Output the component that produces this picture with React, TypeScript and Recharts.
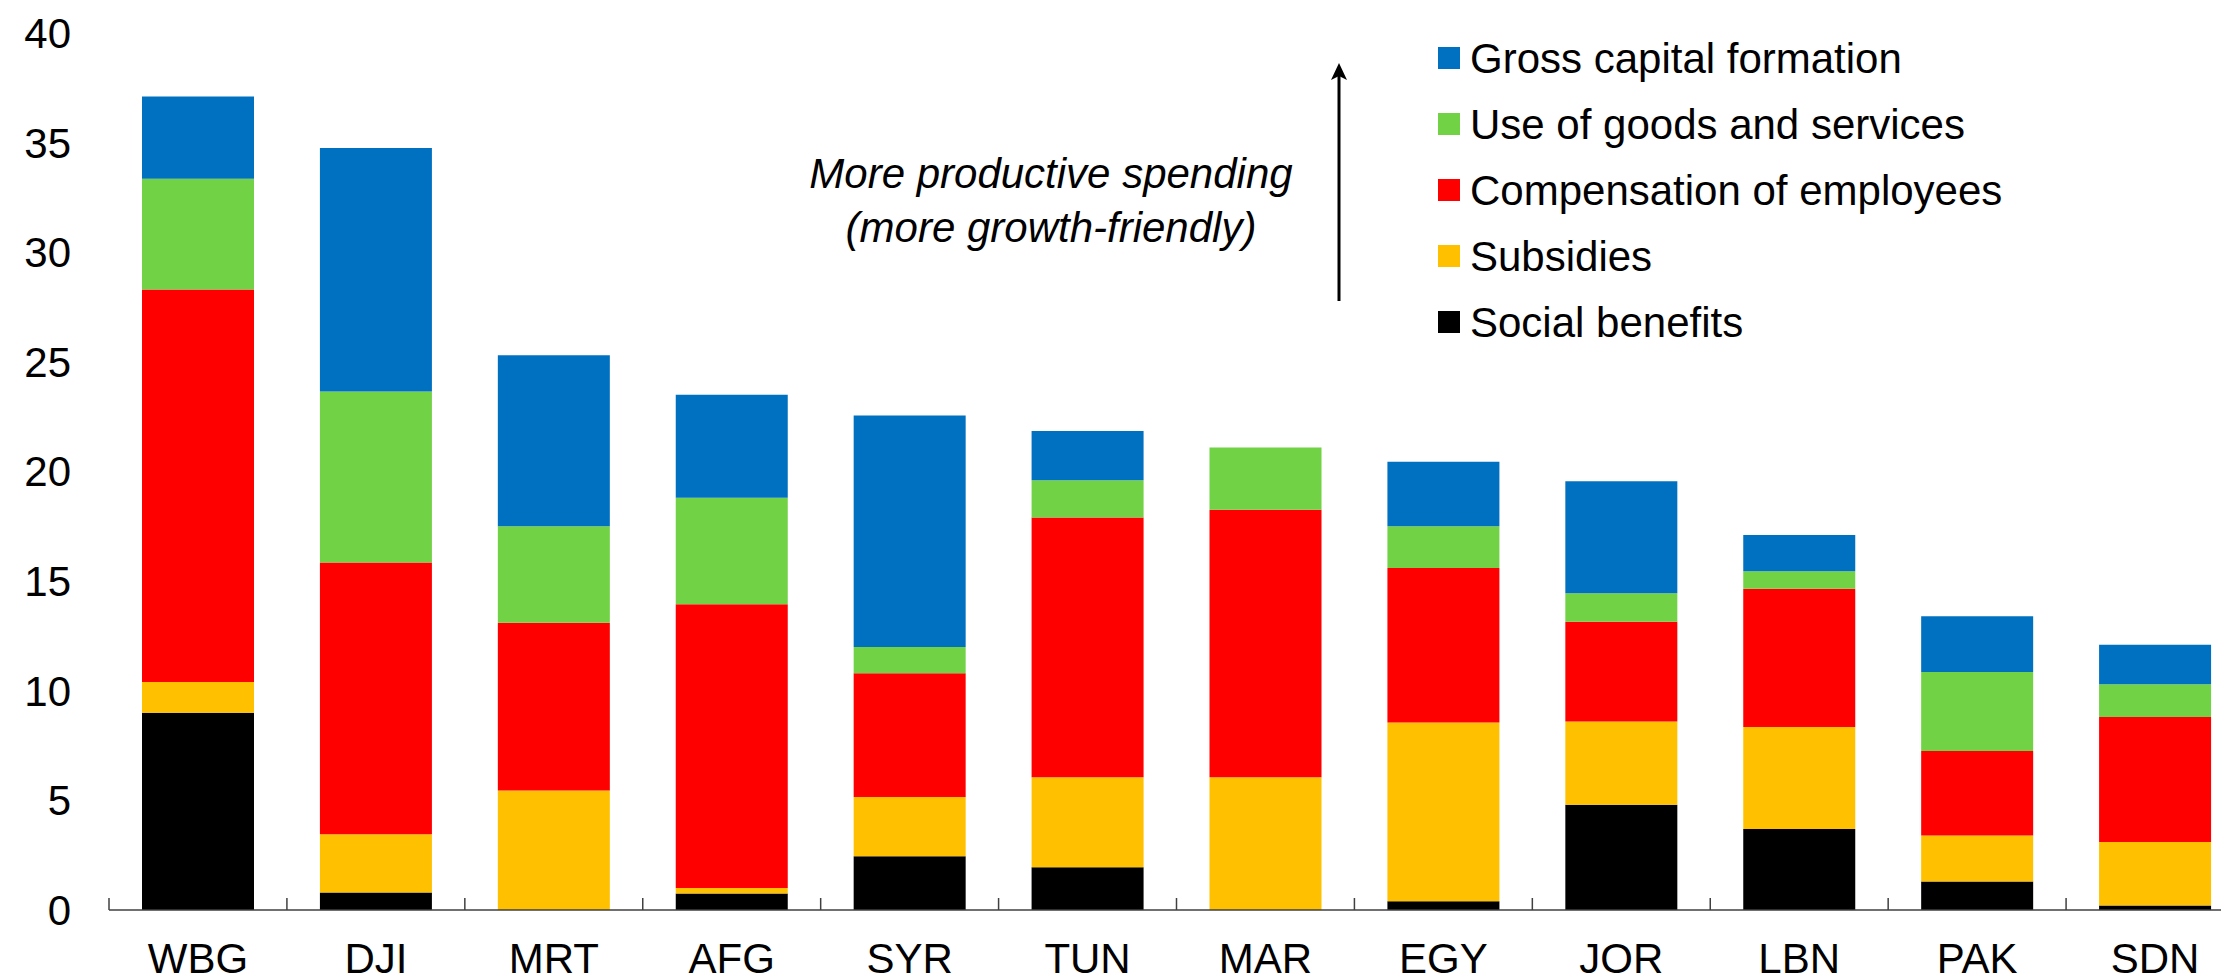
import { BarChart, Bar, XAxis, YAxis } from 'recharts';

// countries, left to right
const countries = ['WBG', 'DJI', 'MRT', 'AFG', 'SYR', 'TUN', 'MAR', 'EGY', 'JOR', 'LBN', 'PAK', 'SDN'];

// spending components, percent of GDP
const socialBenefits = [9.0, 0.8, 0, 0.75, 2.45, 1.95, 0, 0.4, 4.8, 3.7, 1.3, 0.2];
const subsidies = [1.4, 2.65, 5.45, 0.25, 2.7, 4.1, 6.05, 8.15, 3.8, 4.65, 2.1, 2.9];
const compensation = [17.9, 12.4, 7.65, 12.95, 5.65, 11.85, 12.2, 7.05, 4.55, 6.3, 3.85, 5.7];
const goodsServices = [5.05, 7.8, 4.4, 4.85, 1.2, 1.7, 2.85, 1.9, 1.3, 0.8, 3.6, 1.5];
const capitalFormation = [3.75, 11.1, 7.8, 4.7, 10.55, 2.25, 0, 2.95, 5.1, 1.65, 2.55, 1.8];

const yTicks = [0, 5, 10, 15, 20, 25, 30, 35, 40];

// stacking order: bottom first
const SERIES = [
    { key: 'social', name: 'Social benefits', color: '#000000', values: socialBenefits },
    { key: 'subsidies', name: 'Subsidies', color: '#FFC000', values: subsidies },
    { key: 'compensation', name: 'Compensation of employees', color: '#FF0000', values: compensation },
    { key: 'goods', name: 'Use of goods and services', color: '#70D244', values: goodsServices },
    { key: 'capital', name: 'Gross capital formation', color: '#0070C0', values: capitalFormation },
];

const FONT = "Arial, 'Liberation Sans', sans-serif";
const AXIS = '#404040';

const CHART_W = 2244; // wider than the page, right edge gets cropped like the original
const CHART_H = 977;
const Y_W = 109;
const BAND = (CHART_W - Y_W) / countries.length;

const data = countries.map((c, i) => {
    const row: Record<string, string | number> = { country: c };
    SERIES.forEach((s) => {
        row[s.key] = s.values[i];
    });
    return row;
});

// label under the bar + small upward tick at the left edge of each category
const CategoryTick = (props: any) => {
    const { x, y, payload } = props;
    const left = x - BAND / 2;
    return (
        <g>
            <line x1={left} x2={left} y1={y} y2={y - 12} stroke={AXIS} strokeWidth={1.5} />
            <text x={x} y={y + 63} textAnchor="middle" fontSize={42} fontFamily={FONT} fill="#000">
                {payload.value}
            </text>
        </g>
    );
};

export default function App() {
    // legend top-down is reverse of stacking
    const legendItems = [...SERIES].reverse();

    return (
        <div style={{ position: 'absolute', left: 0, top: 0, width: 2221, height: 977, overflow: 'hidden', background: '#fff' }}>
            <BarChart
                width={CHART_W}
                height={CHART_H}
                data={data}
                margin={{ top: 33, right: 0, bottom: 0, left: 0 }}
            >
                <XAxis
                    dataKey="country"
                    height={67}
                    tickLine={false}
                    tickSize={0}
                    tickMargin={0}
                    axisLine={{ stroke: AXIS, strokeWidth: 1.5 }}
                    tick={<CategoryTick />}
                    interval={0}
                />
                <YAxis
                    width={Y_W}
                    domain={[0, 40]}
                    ticks={yTicks}
                    axisLine={false}
                    tickLine={false}
                    tickSize={0}
                    tickMargin={38}
                    tick={{ fontSize: 42, fill: '#000', fontFamily: FONT }}
                />
                {SERIES.map((s) => (
                    <Bar
                        key={s.key}
                        dataKey={s.key}
                        name={s.name}
                        stackId="a"
                        fill={s.color}
                        barSize={112}
                        isAnimationActive={false}
                    />
                ))}
            </BarChart>

            {/* annotation, arrow and legend */}
            <svg
                width={2221}
                height={977}
                style={{ position: 'absolute', left: 0, top: 0, pointerEvents: 'none' }}
            >
                <text x={1051} y={188} textAnchor="middle" fontSize={42} fontStyle="italic" fontFamily={FONT} fill="#000">
                    More productive spending
                </text>
                <text x={1051} y={242} textAnchor="middle" fontSize={42} fontStyle="italic" fontFamily={FONT} fill="#000">
                    (more growth-friendly)
                </text>

                <line x1={1339} x2={1339} y1={301} y2={74} stroke="#000" strokeWidth={3} />
                <polygon points="1339,63 1347,80 1339,76 1331,80" fill="#000" />

                {legendItems.map((s, i) => {
                    const cy = 58 + i * 66;
                    return (
                        <g key={s.key}>
                            <rect x={1438} y={cy - 11} width={22} height={22} fill={s.color} />
                            <text x={1470} y={cy + 15} fontSize={42} fontFamily={FONT} fill="#000">
                                {s.name}
                            </text>
                        </g>
                    );
                })}
            </svg>
        </div>
    );
}
